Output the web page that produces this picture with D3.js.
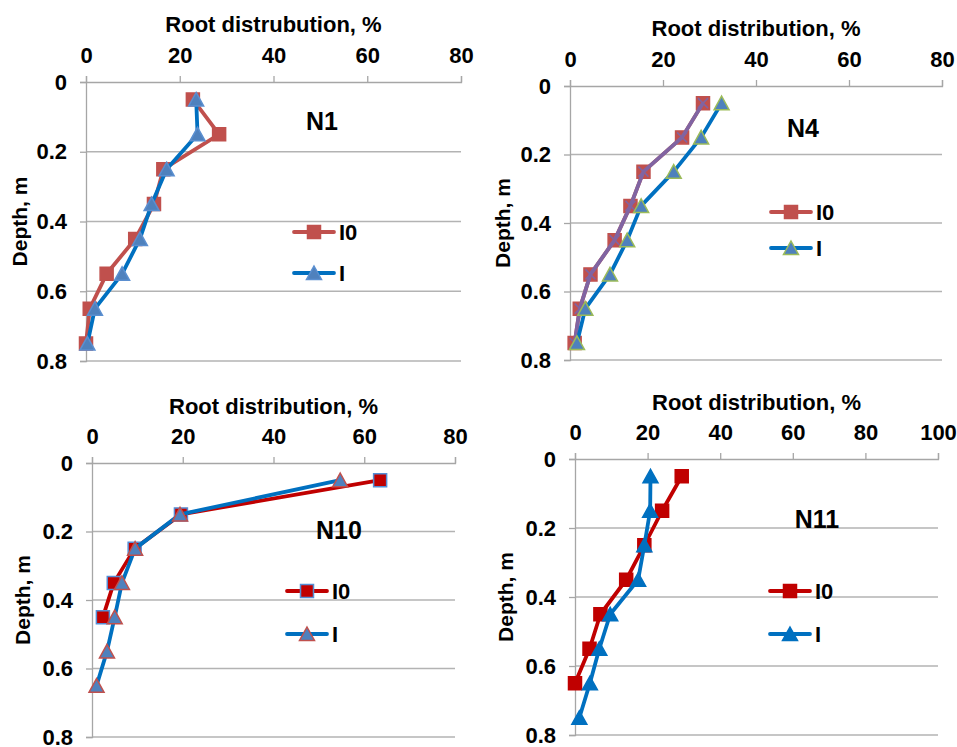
<!DOCTYPE html>
<html>
<head>
<meta charset="utf-8">
<script src="https://cdn.jsdelivr.net/npm/d3@7"></script>
<style>
    body { margin: 0; background: #fff; }
    svg { display: block; font-family: "Liberation Sans", Arial, sans-serif; font-weight: bold; }
    .tick text { fill: #000; }
</style>
</head>
<body>
<svg id="chart" width="957" height="747"></svg>
<script>
// depths of the soil layers (m)
var depths = [0.05, 0.15, 0.25, 0.35, 0.45, 0.55, 0.65, 0.75];
var yTicks = [0, 0.2, 0.4, 0.6, 0.8];
var xTicks80 = [0, 20, 40, 60, 80];
var xTicks100 = [0, 20, 40, 60, 80, 100];

// root distribution, %
var n1I0 = [22.8, 28.4, 16.5, 14.5, 10.5, 4.4, 0.8, 0];
var n1I = [23.5, 23.8, 17.2, 14.0, 11.5, 7.7, 1.9, 0.3];
var n4I0 = [28.6, 24.1, 15.8, 13.0, 9.6, 4.4, 2.1, 1.0];
var n4I = [32.6, 28.2, 22.3, 15.3, 12.3, 8.6, 3.3, 1.5];
var n10I0 = [63.5, 19.6, 9.4, 4.8, 2.4];
var n10I = [54.7, 19.4, 9.5, 6.6, 5.0, 3.3, 1.0];
var n11I0 = [29.4, 24.0, 19.1, 14.1, 7.0, 4.0, 0];
var n11I = [20.8, 20.7, 19.1, 17.4, 9.7, 6.7, 4.1, 1.2];

var svg = d3.select("#chart");

var panels = [
    {name: "N1", title: "Root distrubution, %", box: [86, 461, 82, 361], xTicks: xTicks80,
     titleY: 32, nameX: 322, nameY: 130, legX: 294, legY: [232, 273], depthX: 20,
     series: [
         {label: "I0", values: n1I0, line: "#C0504D", marker: "square", fill: "#C0504D", stroke: "#C0504D"},
         {label: "I", values: n1I, line: "#0070C0", marker: "triangle", fill: "#4F81BD", stroke: "#5B8FD0"}
     ]},
    {name: "N4", title: "Root distribution, %", box: [570, 942, 86, 360], xTicks: xTicks80,
     titleY: 36, nameX: 803, nameY: 137, legX: 771, legY: [212, 248], depthX: 503,
     series: [
         {label: "I0", values: n4I0, line: "#C0504D", marker: "square", fill: "#C0504D", stroke: "#C0504D", overlay: "#8064A2"},
         {label: "I", values: n4I, line: "#0070C0", marker: "triangle", fill: "#4F81BD", stroke: "#9BBB59"}
     ]},
    {name: "N10", title: "Root distribution, %", box: [92, 455, 463, 737], xTicks: xTicks80,
     titleY: 414, nameX: 339, nameY: 539, legX: 287, legY: [591, 634], depthX: 23,
     series: [
         {label: "I0", values: n10I0, line: "#C00000", marker: "square", fill: "#C00000", stroke: "#558ED5"},
         {label: "I", values: n10I, line: "#0070C0", marker: "triangle", fill: "#4F81BD", stroke: "#C0504D"}
     ]},
    {name: "N11", title: "Root distribution, %", box: [575, 938, 459, 735], xTicks: xTicks100,
     titleY: 410, nameX: 817, nameY: 528, legX: 770, legY: [591, 634], depthX: 506,
     series: [
         {label: "I0", values: n11I0, line: "#C00000", marker: "square", fill: "#C00000", stroke: "#C00000"},
         {label: "I", values: n11I, line: "#0070C0", marker: "triangle", fill: "#0070C0", stroke: "#0070C0"}
     ]}
];

function markerPath(type) {
    if (type === "square") {
        return "M-6.5,-6.5H6.5V6.5H-6.5Z";
    }
    return "M0,-7L7.5,6.5H-7.5Z";
}

function drawMarker(g, s, x, y) {
    g.append("path")
        .attr("d", markerPath(s.marker))
        .attr("transform", "translate(" + x + "," + y + ")")
        .attr("fill", s.fill)
        .attr("stroke", s.stroke)
        .attr("stroke-width", 1.5);
}

function drawPanel(p) {
    var g = svg.append("g");
    var x = d3.scaleLinear().domain([0, p.xTicks[p.xTicks.length - 1]]).range([p.box[0], p.box[1]]);
    var y = d3.scaleLinear().domain([0, 0.8]).range([p.box[2], p.box[3]]);

    // horizontal gridlines
    g.selectAll(".grid").data(yTicks.slice(1)).enter().append("line")
        .attr("x1", p.box[0]).attr("x2", p.box[1])
        .attr("y1", function (d) { return y(d); })
        .attr("y2", function (d) { return y(d); })
        .attr("stroke", "#B3B3B3").attr("stroke-width", 1.3);

    var xAxis = g.append("g")
        .attr("transform", "translate(0," + p.box[2] + ")")
        .call(d3.axisTop(x).tickValues(p.xTicks).tickSize(6).tickPadding(13).tickFormat(d3.format("d")));
    var yAxis = g.append("g")
        .attr("transform", "translate(" + p.box[0] + ",0)")
        .call(d3.axisLeft(y).tickValues(yTicks).tickSize(6).tickPadding(13)
            .tickFormat(function (d) { return d === 0 ? "0" : d3.format(".1f")(d); }));
    [xAxis, yAxis].forEach(function (a) {
        a.select(".domain").attr("stroke", "#A6A6A6").attr("stroke-width", 1.3);
        a.selectAll(".tick line").attr("stroke", "#A6A6A6").attr("stroke-width", 1.3);
        a.selectAll(".tick text").attr("font-size", 22).attr("font-weight", "bold")
            .attr("font-family", "Liberation Sans, Arial, sans-serif");
    });

    g.append("text").attr("x", (p.box[0] + p.box[1]) / 2).attr("y", p.titleY)
        .attr("text-anchor", "middle").attr("font-size", 22).text(p.title);
    g.append("text")
        .attr("transform", "translate(" + p.depthX + "," + (p.box[2] + p.box[3]) / 2 + ") rotate(-90)")
        .attr("text-anchor", "middle").attr("dy", "0.35em").attr("font-size", 21).text("Depth, m");
    g.append("text").attr("x", p.nameX).attr("y", p.nameY)
        .attr("text-anchor", "middle").attr("font-size", 25).text(p.name);

    var line = d3.line()
        .x(function (d) { return x(d[0]); })
        .y(function (d, i) { return y(depths[i]); });

    p.series.forEach(function (s, k) {
        var pts = s.values.map(function (v, i) { return [v, depths[i]]; });
        var sg = g.append("g");
        sg.append("path").datum(pts).attr("d", line)
            .attr("fill", "none").attr("stroke", s.line).attr("stroke-width", 3.8)
            .attr("stroke-linejoin", "round");
        pts.forEach(function (d) { drawMarker(sg, s, x(d[0]), y(d[1])); });
        if (s.overlay) {
            sg.append("path").datum(pts).attr("d", line)
                .attr("fill", "none").attr("stroke", s.overlay).attr("stroke-width", 3.8)
                .attr("stroke-linejoin", "round");
            pts.forEach(function (d) {
                sg.append("path")
                    .attr("d", "M-5,-5L5,5M-5,5L5,-5")
                    .attr("transform", "translate(" + x(d[0]) + "," + y(d[1]) + ")")
                    .attr("stroke", s.overlay).attr("stroke-width", 1.5);
            });
        }

        // legend entry
        var ly = p.legY[k];
        g.append("line").attr("x1", p.legX).attr("x2", p.legX + 40)
            .attr("y1", ly).attr("y2", ly)
            .attr("stroke", s.line).attr("stroke-width", 3.8).attr("stroke-linecap", "round");
        drawMarker(g, s, p.legX + 20, ly);
        g.append("text").attr("x", p.legX + 45).attr("y", ly).attr("dy", "0.36em")
            .attr("font-size", 22).text(s.label);
    });
}

panels.forEach(drawPanel);
</script>
</body>
</html>
